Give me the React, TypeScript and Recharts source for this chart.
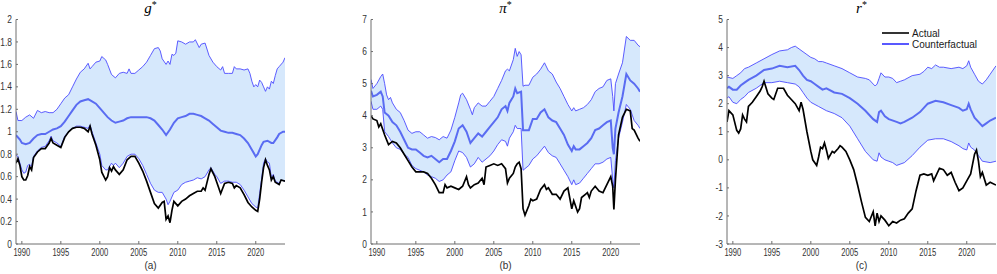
import { ComposedChart, Line, Area, XAxis, YAxis, Legend } from 'recharts';

type Pt = [number, number];

const yearTicks = [1990, 1995, 2000, 2005, 2010, 2015, 2020];

// g* panel
const gUpper: Pt[] = [
  [1989.25, 1.18], [1989.5, 1.1], [1990, 1.1], [1990.5, 1.13], [1991, 1.15], [1991.5, 1.12], [1992, 1.19],
  [1992.5, 1.17], [1993, 1.18], [1993.5, 1.17], [1994, 1.17], [1994.5, 1.2], [1995, 1.25], [1995.5, 1.3],
  [1996, 1.33], [1996.5, 1.4], [1997, 1.47], [1997.5, 1.53], [1998, 1.56], [1998.5, 1.61], [1998.75, 1.56],
  [1999, 1.58], [1999.5, 1.62], [2000, 1.63], [2000.25, 1.67], [2000.75, 1.64], [2001, 1.6], [2001.5, 1.51],
  [2002, 1.48], [2002.5, 1.52], [2003, 1.53], [2003.5, 1.52], [2003.75, 1.56], [2004, 1.52], [2004.5, 1.52],
  [2005, 1.55], [2005.5, 1.58], [2006, 1.62], [2006.5, 1.68], [2007, 1.74], [2007.5, 1.75], [2007.75, 1.72],
  [2008, 1.65], [2008.5, 1.6], [2008.75, 1.63], [2009, 1.6], [2009.25, 1.69], [2009.5, 1.68], [2009.75, 1.7],
  [2010, 1.81], [2010.5, 1.8], [2011, 1.78], [2011.5, 1.8], [2012, 1.8], [2012.25, 1.82], [2012.75, 1.75],
  [2013, 1.78], [2013.5, 1.79], [2014, 1.68], [2014.5, 1.62], [2015, 1.58], [2015.5, 1.55], [2015.75, 1.58],
  [2016, 1.52], [2016.5, 1.52], [2017, 1.52], [2017.25, 1.58], [2017.5, 1.56], [2018, 1.56], [2018.5, 1.55],
  [2019, 1.56], [2019.25, 1.52], [2019.5, 1.45], [2019.75, 1.4], [2020, 1.42], [2020.25, 1.4], [2020.5, 1.46],
  [2020.75, 1.44], [2021, 1.4], [2021.25, 1.36], [2021.5, 1.4], [2021.75, 1.38], [2022, 1.45], [2022.25, 1.43],
  [2022.5, 1.5], [2022.75, 1.56], [2023, 1.58], [2023.5, 1.62], [2023.75, 1.66],
];
const gMedian: Pt[] = [
  [1989.25, 0.97], [1989.75, 0.93], [1990, 0.9], [1990.5, 0.89], [1991, 0.9], [1991.5, 0.94], [1992, 0.97],
  [1992.5, 0.98], [1993, 0.98], [1993.5, 1.0], [1994, 1.02], [1994.5, 1.03], [1995, 1.05], [1995.5, 1.09],
  [1996, 1.14], [1996.5, 1.19], [1997, 1.24], [1997.5, 1.27], [1998, 1.28], [1998.5, 1.29], [1999, 1.27],
  [1999.5, 1.25], [2000, 1.21], [2000.5, 1.17], [2001, 1.13], [2001.5, 1.1], [2002, 1.08], [2002.5, 1.09],
  [2003, 1.1], [2003.5, 1.12], [2004, 1.13], [2005, 1.13], [2006, 1.13], [2006.5, 1.12], [2007, 1.1],
  [2007.5, 1.06], [2008, 1.02], [2008.5, 0.97], [2009, 1.02], [2009.5, 1.08], [2010, 1.12], [2010.5, 1.13],
  [2011, 1.14], [2011.5, 1.16], [2012, 1.16], [2012.5, 1.15], [2013, 1.14], [2013.5, 1.12], [2014, 1.1],
  [2014.5, 1.07], [2015, 1.04], [2015.5, 1.01], [2016, 1.0], [2016.5, 0.99], [2017, 0.99], [2017.5, 0.98],
  [2018, 0.97], [2018.5, 0.94], [2019, 0.9], [2019.5, 0.84], [2020, 0.78], [2020.25, 0.8], [2020.75, 0.88],
  [2021, 0.91], [2021.5, 0.92], [2022, 0.9], [2022.25, 0.9], [2022.75, 0.95], [2023, 0.98], [2023.5, 1.0],
  [2023.75, 1.0],
];
const gLower: Pt[] = [
  [1989.25, 0.79], [1989.5, 0.78], [1989.75, 0.72], [1990, 0.66], [1990.25, 0.63], [1990.5, 0.64],
  [1990.75, 0.7], [1991, 0.71], [1991.25, 0.69], [1991.5, 0.78], [1992, 0.83], [1992.5, 0.86], [1993, 0.87],
  [1993.5, 0.92], [1993.75, 0.96], [1994, 0.92], [1994.5, 0.9], [1995, 0.87], [1995.5, 0.96], [1996, 1.0],
  [1996.5, 1.03], [1997, 1.05], [1997.5, 1.05], [1998, 1.04], [1998.5, 1.03], [1998.75, 1.06], [1999, 1.0],
  [1999.5, 0.9], [2000, 0.8], [2000.25, 0.7], [2000.75, 0.66], [2001, 0.66], [2001.5, 0.72], [2001.75, 0.7],
  [2002, 0.72], [2002.5, 0.68], [2003, 0.72], [2003.5, 0.78], [2004, 0.8], [2004.5, 0.8], [2005, 0.76],
  [2005.5, 0.7], [2006, 0.62], [2006.5, 0.54], [2007, 0.48], [2007.5, 0.46], [2008, 0.46], [2008.5, 0.4],
  [2008.75, 0.35], [2009, 0.38], [2009.5, 0.46], [2010, 0.48], [2010.5, 0.53], [2011, 0.55], [2011.5, 0.56],
  [2012, 0.57], [2012.5, 0.59], [2013, 0.58], [2013.5, 0.6], [2014, 0.66], [2014.25, 0.68], [2014.75, 0.62],
  [2015, 0.6], [2015.5, 0.54], [2016, 0.56], [2016.5, 0.56], [2017, 0.55], [2017.5, 0.55], [2018, 0.53],
  [2018.5, 0.48], [2019, 0.42], [2019.5, 0.36], [2020, 0.33], [2020.25, 0.32], [2020.5, 0.45], [2020.75, 0.58],
  [2021, 0.72], [2021.25, 0.76], [2021.5, 0.73], [2021.75, 0.72], [2022, 0.59], [2022.25, 0.62], [2022.5, 0.56],
  [2023, 0.54], [2023.25, 0.57], [2023.75, 0.56],
];
const gActual: Pt[] = [
  [1989.25, 0.72], [1989.5, 0.76], [1989.75, 0.7], [1990, 0.6], [1990.25, 0.57], [1990.5, 0.57],
  [1990.75, 0.61], [1991, 0.69], [1991.25, 0.66], [1991.5, 0.77], [1992, 0.82], [1992.5, 0.85], [1993, 0.85],
  [1993.5, 0.9], [1993.75, 0.94], [1994, 0.9], [1994.5, 0.88], [1995, 0.86], [1995.5, 0.95], [1996, 1.0],
  [1996.5, 1.03], [1997, 1.04], [1997.5, 1.04], [1998, 1.03], [1998.5, 1.0], [1998.75, 1.05], [1999, 0.98],
  [1999.5, 0.88], [2000, 0.75], [2000.25, 0.64], [2000.75, 0.57], [2001, 0.6], [2001.25, 0.68], [2001.5, 0.65],
  [2001.75, 0.69], [2002, 0.66], [2002.5, 0.62], [2003, 0.66], [2003.5, 0.75], [2004, 0.78], [2004.5, 0.78],
  [2005, 0.72], [2005.5, 0.65], [2006, 0.56], [2006.5, 0.46], [2007, 0.36], [2007.5, 0.32], [2008, 0.37],
  [2008.25, 0.38], [2008.5, 0.22], [2008.75, 0.25], [2009, 0.19], [2009.25, 0.3], [2009.5, 0.38], [2010, 0.34],
  [2010.5, 0.38], [2011, 0.4], [2011.5, 0.43], [2012, 0.45], [2012.5, 0.47], [2013, 0.47], [2013.25, 0.5],
  [2013.5, 0.48], [2014, 0.62], [2014.25, 0.67], [2014.75, 0.6], [2015, 0.55], [2015.5, 0.45], [2016, 0.54],
  [2016.5, 0.55], [2017, 0.54], [2017.25, 0.5], [2017.5, 0.52], [2018, 0.5], [2018.5, 0.44], [2019, 0.37],
  [2019.5, 0.33], [2020, 0.3], [2020.25, 0.29], [2020.5, 0.4], [2020.75, 0.55], [2021, 0.68], [2021.25, 0.75],
  [2021.5, 0.7], [2021.75, 0.66], [2022, 0.57], [2022.25, 0.6], [2022.5, 0.55], [2023, 0.53], [2023.25, 0.57],
  [2023.75, 0.56],
];

// pi* panel
const piUpper: Pt[] = [
  [1989.25, 5.13], [1989.5, 4.85], [1990, 5.0], [1990.5, 5.22], [1990.75, 5.3], [1991, 5.0], [1991.25, 4.65],
  [1991.5, 4.5], [1991.75, 4.57], [1992, 4.4], [1992.5, 4.2], [1993, 4.1], [1993.5, 3.85], [1994, 3.55],
  [1994.5, 3.45], [1995, 3.5], [1995.5, 3.5], [1996, 3.4], [1996.5, 3.3], [1997, 3.35], [1997.5, 3.32],
  [1998, 3.25], [1998.5, 3.35], [1999, 3.3], [1999.5, 3.55], [2000, 3.95], [2000.5, 4.4], [2000.75, 4.65],
  [2001, 4.7], [2001.5, 4.5], [2002, 4.2], [2002.25, 4.03], [2002.5, 4.25], [2003, 4.4], [2003.5, 4.3],
  [2004, 4.3], [2004.5, 4.45], [2005, 4.6], [2005.5, 4.85], [2006, 5.1], [2006.5, 5.4], [2006.75, 5.45],
  [2007, 5.4], [2007.5, 5.75], [2007.75, 6.1], [2008, 5.85], [2008.25, 6.0], [2008.5, 5.9], [2008.75, 4.92],
  [2009, 4.95], [2009.5, 4.95], [2010, 5.2], [2010.5, 5.3], [2011, 5.45], [2011.5, 5.65], [2012, 5.4],
  [2012.5, 5.3], [2013, 5.05], [2013.5, 4.85], [2014, 4.6], [2014.5, 4.35], [2015, 4.15], [2015.25, 4.25],
  [2015.5, 4.15], [2016, 4.2], [2016.5, 4.25], [2017, 4.35], [2017.5, 4.5], [2018, 4.75], [2018.5, 4.85],
  [2019, 4.9], [2019.5, 5.1], [2020, 5.15], [2020.25, 4.6], [2020.4, 4.15], [2020.6, 5.0], [2021, 5.3],
  [2021.5, 5.65], [2022, 6.47], [2022.5, 6.35], [2023, 6.35], [2023.5, 6.2], [2023.75, 6.15],
];
const piMedian: Pt[] = [
  [1989.25, 4.78], [1989.5, 4.6], [1990, 4.65], [1990.5, 4.75], [1990.75, 4.6], [1991, 4.1], [1991.5, 4.0],
  [1992, 3.8], [1992.5, 3.7], [1993, 3.5], [1993.5, 3.25], [1994, 3.0], [1994.5, 2.95], [1995, 2.95],
  [1995.5, 2.85], [1996, 2.75], [1996.5, 2.7], [1997, 2.75], [1997.5, 2.65], [1998, 2.55], [1998.5, 2.65],
  [1999, 2.65], [1999.5, 2.9], [2000, 3.2], [2000.5, 3.6], [2001, 3.7], [2001.5, 3.5], [2002, 3.15],
  [2002.5, 3.3], [2003, 3.45], [2003.5, 3.35], [2004, 3.5], [2004.5, 3.65], [2005, 3.8], [2005.5, 3.95],
  [2006, 4.2], [2006.5, 4.3], [2006.75, 4.15], [2007, 4.4], [2007.5, 4.6], [2007.75, 4.85], [2008, 4.7],
  [2008.5, 4.75], [2008.75, 3.55], [2009, 3.55], [2009.5, 3.55], [2010, 3.9], [2010.5, 3.9], [2011, 4.1],
  [2011.5, 4.2], [2012, 3.95], [2012.5, 3.85], [2013, 3.8], [2013.5, 3.6], [2014, 3.4], [2014.5, 3.1],
  [2015, 2.9], [2015.25, 3.05], [2015.5, 2.95], [2016, 2.95], [2016.5, 3.05], [2017, 3.15], [2017.5, 3.3],
  [2018, 3.55], [2018.5, 3.6], [2019, 3.7], [2019.5, 3.8], [2020, 3.85], [2020.25, 3.0], [2020.4, 2.8],
  [2020.6, 3.6], [2021, 4.1], [2021.5, 4.6], [2022, 5.3], [2022.5, 5.1], [2023, 5.0], [2023.5, 4.85],
  [2023.75, 4.75],
];
const piLower: Pt[] = [
  [1989.25, 4.45], [1989.5, 4.2], [1990, 4.2], [1990.5, 4.3], [1990.75, 4.2], [1991, 3.5], [1991.5, 3.35],
  [1992, 3.15], [1992.5, 3.0], [1993, 2.95], [1993.5, 2.8], [1994, 2.7], [1994.5, 2.45], [1995, 2.35],
  [1995.5, 2.3], [1996, 2.25], [1996.5, 2.15], [1997, 2.1], [1997.5, 2.05], [1998, 1.95], [1998.5, 2.0],
  [1999, 2.15], [1999.5, 2.25], [2000, 2.6], [2000.5, 2.9], [2001, 2.85], [2001.5, 2.7], [2002, 2.4],
  [2002.5, 2.5], [2003, 2.7], [2003.5, 2.55], [2004, 2.65], [2004.5, 2.75], [2005, 2.9], [2005.5, 3.1],
  [2006, 3.25], [2006.5, 3.2], [2006.75, 3.05], [2007, 3.3], [2007.5, 3.5], [2007.75, 3.7], [2008, 3.6],
  [2008.5, 3.6], [2008.75, 2.3], [2009, 2.35], [2009.5, 2.45], [2010, 2.65], [2010.5, 2.75], [2011, 2.9],
  [2011.5, 3.05], [2012, 2.85], [2012.5, 2.75], [2013, 2.7], [2013.5, 2.5], [2014, 2.3], [2014.5, 2.1],
  [2015, 1.85], [2015.25, 2.0], [2015.5, 1.85], [2016, 1.9], [2016.5, 2.05], [2017, 2.2], [2017.5, 2.35],
  [2018, 2.5], [2018.5, 2.5], [2019, 2.55], [2019.5, 2.65], [2020, 2.7], [2020.25, 2.0], [2020.4, 1.75],
  [2020.6, 2.6], [2021, 3.3], [2021.5, 3.8], [2022, 4.35], [2022.5, 4.2], [2023, 3.85], [2023.5, 3.7],
  [2023.75, 3.6],
];
const piActual: Pt[] = [
  [1989.25, 4.0], [1989.5, 3.9], [1990, 3.85], [1990.25, 3.65], [1990.5, 3.75], [1991, 3.4], [1991.5, 3.1],
  [1992, 3.2], [1992.5, 3.15], [1993, 3.0], [1993.5, 2.8], [1994, 2.6], [1994.5, 2.4], [1995, 2.25],
  [1995.5, 2.25], [1996, 2.25], [1996.5, 2.2], [1997, 2.05], [1997.5, 1.85], [1998, 1.6], [1998.5, 1.6],
  [1998.75, 1.85], [1999, 1.75], [1999.5, 1.8], [2000, 1.75], [2000.5, 1.7], [2001, 1.8], [2001.5, 2.1],
  [2001.75, 1.85], [2002, 1.75], [2002.5, 1.85], [2003, 1.9], [2003.5, 2.05], [2003.75, 1.85], [2004, 2.4],
  [2004.5, 2.45], [2005, 2.5], [2005.5, 2.45], [2006, 2.5], [2006.5, 2.35], [2006.75, 1.9], [2007, 2.05],
  [2007.5, 2.2], [2007.75, 2.4], [2008, 2.5], [2008.25, 2.55], [2008.5, 2.35], [2008.75, 1.1], [2009, 0.9],
  [2009.5, 1.2], [2009.75, 1.4], [2010, 1.35], [2010.5, 1.4], [2011, 1.7], [2011.5, 1.85], [2011.75, 1.7],
  [2012, 1.75], [2012.5, 1.55], [2013, 1.55], [2013.5, 1.4], [2014, 1.65], [2014.5, 1.75], [2015, 1.1],
  [2015.25, 1.35], [2015.75, 1.0], [2016, 1.1], [2016.25, 1.45], [2016.75, 1.55], [2017, 1.6], [2017.25, 1.45],
  [2017.5, 1.65], [2018, 1.8], [2018.5, 1.65], [2019, 1.6], [2019.5, 1.85], [2020, 2.1], [2020.25, 1.8],
  [2020.4, 1.08], [2020.6, 2.0], [2021, 3.4], [2021.5, 3.95], [2022, 4.2], [2022.5, 4.15], [2022.75, 3.6],
  [2023, 3.55], [2023.5, 3.3], [2023.75, 3.2],
];

// r* panel
const rUpper: Pt[] = [
  [1989.25, 2.95], [1990, 2.9], [1990.5, 3.0], [1991, 3.1], [1991.5, 3.25], [1992, 3.3], [1993, 3.45],
  [1994, 3.6], [1995, 3.75], [1996, 3.88], [1997, 3.92], [1997.5, 4.0], [1998, 4.05], [1998.5, 3.95],
  [1999, 3.85], [1999.5, 3.75], [2000, 3.65], [2000.5, 3.6], [2001, 3.5], [2001.5, 3.5], [2002, 3.45],
  [2003, 3.35], [2004, 3.25], [2005, 3.1], [2006, 2.95], [2007, 2.9], [2007.5, 2.85], [2008, 2.7],
  [2008.25, 2.63], [2008.5, 2.7], [2008.75, 2.9], [2009, 3.1], [2009.5, 2.95], [2010, 2.95], [2010.5, 2.9],
  [2011, 2.75], [2011.5, 2.8], [2012, 2.85], [2013, 3.0], [2014, 3.05], [2014.5, 3.15], [2015, 3.3],
  [2015.5, 3.25], [2016, 3.38], [2016.5, 3.3], [2017, 3.3], [2018, 3.25], [2019, 3.3], [2019.5, 3.25],
  [2020, 3.35], [2020.25, 3.53], [2020.5, 3.3], [2021, 3.05], [2021.5, 2.8], [2022, 2.7], [2022.5, 2.85],
  [2023, 3.05], [2023.75, 3.35],
];
const rMedian: Pt[] = [
  [1989.25, 2.55], [1989.5, 2.6], [1990, 2.5], [1990.5, 2.5], [1991, 2.65], [1991.5, 2.75], [1992, 2.85],
  [1993, 3.0], [1994, 3.2], [1995, 3.25], [1996, 3.35], [1997, 3.3], [1998, 3.35], [1998.5, 3.2], [1999, 3.0],
  [1999.5, 2.85], [2000, 2.8], [2000.5, 2.7], [2001, 2.6], [2001.5, 2.5], [2002, 2.55], [2003, 2.4],
  [2004, 2.35], [2005, 2.2], [2006, 2.0], [2007, 1.75], [2008, 1.45], [2008.5, 1.35], [2008.75, 1.7],
  [2009, 1.75], [2009.5, 1.55], [2010, 1.45], [2011, 1.35], [2011.5, 1.3], [2012, 1.35], [2013, 1.5],
  [2014, 1.7], [2015, 2.0], [2015.5, 2.05], [2016, 2.1], [2017, 2.05], [2018, 1.95], [2019, 1.85],
  [2019.5, 1.75], [2020, 1.8], [2020.25, 2.0], [2020.5, 1.8], [2021, 1.5], [2021.5, 1.35], [2022, 1.2],
  [2022.5, 1.3], [2023, 1.4], [2023.75, 1.5],
];
const rLower: Pt[] = [
  [1989.25, 2.2], [1989.5, 2.25], [1990, 2.05], [1990.5, 2.0], [1991, 2.15], [1991.5, 2.25], [1992, 2.4],
  [1993, 2.55], [1994, 2.75], [1995, 2.75], [1996, 2.8], [1997, 2.75], [1998, 2.7], [1998.5, 2.6], [1999, 2.4],
  [1999.5, 2.2], [2000, 2.05], [2001, 1.9], [2002, 1.75], [2003, 1.65], [2004, 1.5], [2005, 1.2], [2006, 0.75],
  [2007, 0.3], [2008, 0.0], [2008.5, -0.05], [2008.75, 0.25], [2009, 0.1], [2009.5, 0.0], [2010, -0.05],
  [2010.5, -0.1], [2011, -0.2], [2012, -0.1], [2013, 0.15], [2014, 0.45], [2015, 0.7], [2016, 0.75],
  [2017, 0.75], [2018, 0.65], [2019, 0.5], [2019.5, 0.4], [2020, 0.35], [2020.25, 0.6], [2020.5, 0.45],
  [2021, 0.35], [2021.5, 0.15], [2022, -0.05], [2023, -0.1], [2023.75, -0.05],
];
const rActual: Pt[] = [
  [1989.25, 1.35], [1989.5, 1.75], [1990, 1.6], [1990.5, 1.05], [1990.75, 0.95], [1991, 1.1], [1991.25, 1.6],
  [1991.5, 1.45], [1991.75, 1.35], [1992, 1.9], [1992.5, 2.05], [1993, 2.25], [1993.5, 2.45], [1993.75, 2.6],
  [1994, 2.8], [1994.5, 2.35], [1995, 2.2], [1995.25, 2.15], [1995.75, 2.55], [1996, 2.55], [1996.5, 2.55],
  [1997, 2.3], [1997.5, 2.15], [1998, 2.0], [1998.5, 1.75], [1998.75, 2.05], [1999, 1.8], [1999.5, 1.0],
  [2000, 0.3], [2000.25, 0.0], [2000.75, -0.2], [2001, 0.1], [2001.25, 0.45], [2001.5, 0.4], [2001.75, 0.6],
  [2002, 0.35], [2002.25, 0.05], [2002.75, 0.3], [2003, 0.25], [2003.5, 0.4], [2003.75, 0.5], [2004, 0.45],
  [2004.5, 0.3], [2005, 0.0], [2005.5, -0.35], [2006, -0.9], [2006.5, -1.5], [2007, -2.05], [2007.5, -2.2],
  [2008, -1.85], [2008.25, -2.35], [2008.5, -1.9], [2008.75, -2.2], [2009, -2.0], [2009.5, -2.15],
  [2010, -2.35], [2010.5, -2.2], [2011, -2.25], [2011.5, -2.15], [2012, -2.1], [2012.5, -1.9], [2013, -1.75],
  [2013.5, -1.1], [2014, -0.55], [2014.5, -0.5], [2015, -0.55], [2015.5, -0.5], [2015.75, -0.75], [2016, -0.6],
  [2016.5, -0.3], [2017, -0.35], [2017.5, -0.55], [2018, -0.45], [2018.5, -0.8], [2019, -1.1], [2019.5, -1.0],
  [2020, -0.75], [2020.5, -0.5], [2021, 0.2], [2021.25, 0.35], [2021.5, -0.05], [2021.75, -0.6],
  [2022, -0.45], [2022.5, -0.9], [2023, -0.8], [2023.75, -0.9],
];

const legendItems = [
  { label: 'Actual', color: '#000000' },
  { label: 'Counterfactual', color: '#2f2fff' },
];

const BAND = '#d6e8fc';
const EDGE = '#4b4bff';
const MID = '#5a6cf2';
const AXIS = '#6e6e6e';
const SANS = '"Liberation Sans", Arial, Helvetica, sans-serif';

const toPts = (arr: Pt[]) => arr.map(([x, y]) => ({ x, y }));

// tick labels in the figure are narrower than a plain sans face
const XTick = (props: any) => {
  const { x, y, payload } = props;
  return (
    <text transform={`translate(${x},${y}) scale(0.76,1)`} textAnchor="middle" dy="0.72em"
      fontSize={10} fontFamily={SANS} fill="#333333">{payload.value}</text>
  );
};
const YTick = (props: any) => {
  const { x, y, payload } = props;
  return (
    <text transform={`translate(${x},${y}) scale(0.84,1)`} textAnchor="end" dy="0.36em"
      fontSize={10} fontFamily={SANS} fill="#333333">{String(payload.value)}</text>
  );
};

interface PanelProps {
  left: number;
  title: string;
  sub: string;
  yDomain: [number, number];
  yTicks: number[];
  upper: Pt[];
  median: Pt[];
  lower: Pt[];
  actual: Pt[];
  showLegend?: boolean;
}

const PLOT_W = 269;
const Y_W = 30;

function LegendBox() {
  return (
    <div style={{ fontFamily: SANS, fontSize: 10, color: '#1a1a1a' }}>
      {legendItems.map((it) => (
        <div key={it.label} style={{ display: 'flex', alignItems: 'center', height: 11.3 }}>
          <svg width={27} height={4} style={{ display: 'block' }}>
            <line x1={0} x2={27} y1={2} y2={2} stroke={it.color} strokeWidth={1.6} />
          </svg>
          <span style={{ marginLeft: 3, lineHeight: '11px' }}>{it.label}</span>
        </div>
      ))}
    </div>
  );
}

function Panel({ left, title, sub, yDomain, yTicks, upper, median, lower, actual, showLegend }: PanelProps) {
  const base = yDomain[0];
  const cx = left + Y_W + PLOT_W / 2;
  return (
    <>
      <div style={{ position: 'absolute', left, top: 0 }}>
        <ComposedChart width={Y_W + PLOT_W + 6} height={274} margin={{ top: 19.5, right: 6, bottom: 0, left: 0 }}>
          <Area data={toPts(upper)} dataKey="y" type="linear" stroke="none" fill={BAND} fillOpacity={1}
            baseValue={base} isAnimationActive={false} />
          <Area data={toPts(lower)} dataKey="y" type="linear" stroke="none" fill="#ffffff" fillOpacity={1}
            baseValue={base} isAnimationActive={false} />
          <Line data={toPts(upper)} dataKey="y" type="linear" stroke={EDGE} strokeWidth={0.9} dot={false}
            isAnimationActive={false} />
          <Line data={toPts(lower)} dataKey="y" type="linear" stroke={EDGE} strokeWidth={0.9} dot={false}
            isAnimationActive={false} />
          <Line data={toPts(median)} dataKey="y" type="linear" stroke={MID} strokeWidth={2} dot={false}
            isAnimationActive={false} />
          <Line data={toPts(actual)} dataKey="y" type="linear" stroke="#000000" strokeWidth={1.7} dot={false}
            isAnimationActive={false} />
          <XAxis dataKey="x" type="number" domain={[1989.25, 2023.75]} ticks={yearTicks} interval={0}
            allowDataOverflow height={30} tickSize={-3} tickMargin={8} stroke={AXIS} tick={<XTick />} />
          <YAxis type="number" domain={yDomain} ticks={yTicks} interval={0} allowDataOverflow width={Y_W}
            tickSize={-2} tickMargin={6} stroke={AXIS} tick={<YTick />} />
          {showLegend && (
            <Legend layout="vertical" align="center" verticalAlign="middle" content={<LegendBox />}
              wrapperStyle={{ left: 185, top: 27.4, width: 110 }} />
          )}
        </ComposedChart>
      </div>
      <svg style={{ position: 'absolute', left: 0, top: 0, overflow: 'visible' }} width={1} height={1}>
        <text x={cx} y={12.5} textAnchor="middle" fontFamily='"Liberation Serif", "DejaVu Serif", serif'
          fontStyle="italic" fontSize={15} fill="#000">
          {title}
          <tspan dy={-5} fontSize={10} fontStyle="normal">*</tspan>
        </text>
        <text x={cx} y={269} textAnchor="middle" fontFamily={SANS} fontSize={10} fill="#333333">{sub}</text>
      </svg>
    </>
  );
}

export default function App() {
  return (
    <div style={{ position: 'absolute', left: 0, top: 0, width: 997, height: 274, overflow: 'hidden', background: '#fff' }}>
      <Panel left={-14} title="g" sub="(a)" yDomain={[0, 2]}
        yTicks={[0, 0.2, 0.4, 0.6, 0.8, 1, 1.2, 1.4, 1.6, 1.8, 2]}
        upper={gUpper} median={gMedian} lower={gLower} actual={gActual} />
      <Panel left={341} title="π" sub="(b)" yDomain={[0, 7]} yTicks={[0, 1, 2, 3, 4, 5, 6, 7]}
        upper={piUpper} median={piMedian} lower={piLower} actual={piActual} />
      <Panel left={697} title="r" sub="(c)" yDomain={[-3, 5]} yTicks={[-3, -2, -1, 0, 1, 2, 3, 4, 5]}
        upper={rUpper} median={rMedian} lower={rLower} actual={rActual} showLegend />
    </div>
  );
}
